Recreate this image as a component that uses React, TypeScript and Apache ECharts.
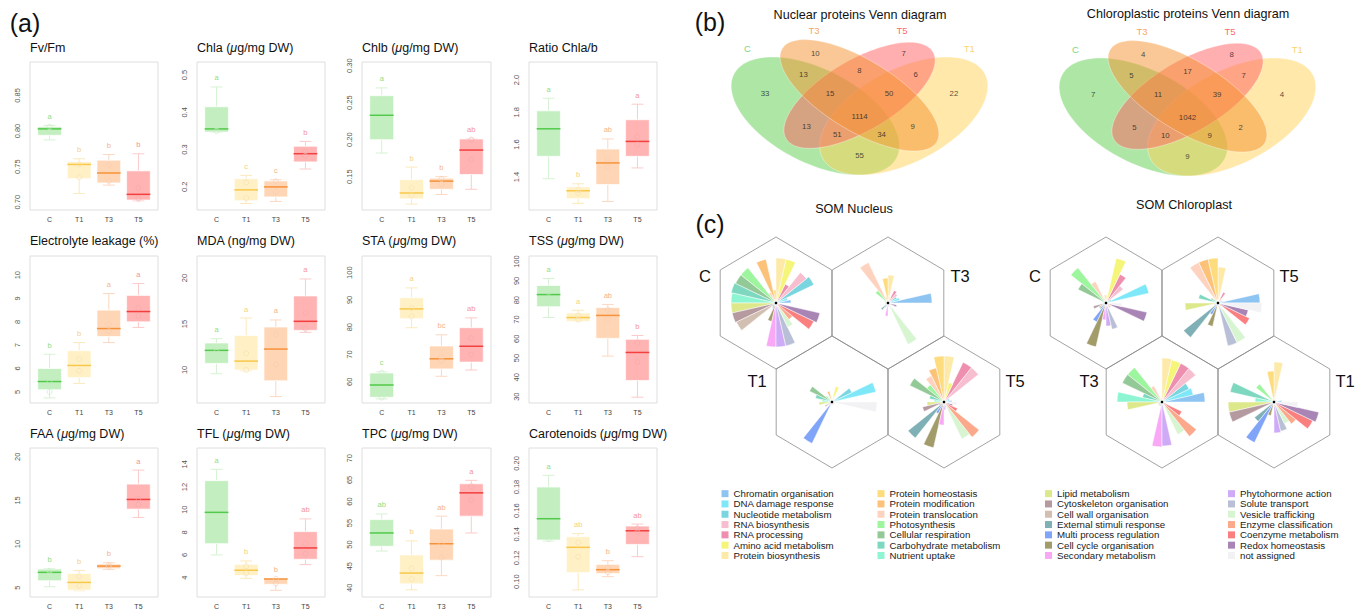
import React, { useEffect, useRef } from 'react';
import * as echarts from 'echarts';

const FONT = '"Liberation Sans", Arial, Helvetica, sans-serif';
const GROUPS = ['C', 'T1', 'T3', 'T5'];

// ---------------- (a) box plots: [min, Q1, median, Q3, max] per group ----------------
const fvfmBox = [[0.7875, 0.794, 0.803, 0.806, 0.808], [0.712, 0.733, 0.753, 0.757, 0.761], [0.724, 0.727, 0.741, 0.759, 0.767], [0.702, 0.703, 0.711, 0.744, 0.768]];
const fvfmLetters = ['a', 'b', 'b', 'b'];
const fvfmPoints = [[0.806, 0.799], [0.753, 0.735], [0.752, 0.730], [0.720, 0.705]];
const fvfmTicks = [0.70, 0.75, 0.80, 0.85];

const chlaBox = [[0.347, 0.347, 0.3555, 0.415, 0.468], [0.1555, 0.163, 0.192, 0.222, 0.231], [0.161, 0.173, 0.200, 0.216, 0.219], [0.248, 0.267, 0.289, 0.309, 0.322]];
const chlaLetters = ['a', 'c', 'c', 'b'];
const chlaPoints = [[0.362, 0.350], [0.212, 0.170], [0.215, 0.187], [0.295, 0.283]];
const chlaTicks = [0.2, 0.3, 0.4, 0.5];

const chlbBox = [[0.182, 0.200, 0.233, 0.2595, 0.270], [0.113, 0.120, 0.128, 0.146, 0.163], [0.126, 0.133, 0.144, 0.148, 0.150], [0.133, 0.153, 0.186, 0.201, 0.201]];
const chlbLetters = ['a', 'b', 'b', 'ab'];
const chlbPoints = [[0.250, 0.218], [0.135, 0.125], [0.147, 0.140], [0.200, 0.173]];
const chlbTicks = [0.15, 0.20, 0.25, 0.30];

const ratioBox = [[1.389, 1.528, 1.698, 1.809, 1.887], [1.237, 1.266, 1.315, 1.339, 1.358], [1.249, 1.354, 1.487, 1.573, 1.635], [1.456, 1.528, 1.620, 1.754, 1.850]];
const ratioLetters = ['a', 'b', 'ab', 'a'];
const ratioPoints = [[1.73, 1.66], [1.32, 1.30], [1.51, 1.46], [1.65, 1.60]];
const ratioTicks = [1.4, 1.6, 1.8, 2.0];

const elBox = [[4.74, 5.09, 5.44, 6.0, 6.61], [5.36, 5.61, 6.13, 6.76, 7.11], [7.11, 7.37, 7.71, 8.5, 9.21], [7.76, 8.0, 8.44, 9.13, 9.64]];
const elLetters = ['b', 'b', 'a', 'a'];
const elPoints = [[5.4, 5.0], [6.4, 5.9], [7.6, 7.9], [8.6, 8.25]];
const elTicks = [5, 6, 7, 8, 9, 10];

const mdaBox = [[9.58, 10.71, 12.13, 12.93, 13.4], [9.9, 9.98, 10.96, 13.76, 15.65], [7.1, 8.82, 12.27, 14.67, 15.44], [14.09, 14.31, 15.29, 18.05, 19.9]];
const mdaLetters = ['a', 'a', 'a', 'a'];
const mdaPoints = [[12.5, 12.0], [11.8, 10.0], [13.9, 10.6], [16.2, 14.5]];
const mdaTicks = [10, 15, 20];

const staBox = [[53.7, 54.3, 58.8, 63.2, 63.6], [79.8, 83.1, 86.7, 90.8, 94.4], [62.0, 64.7, 68.4, 73.1, 77.2], [64.3, 67.2, 73.0, 79.8, 83.4]];
const staLetters = ['c', 'a', 'bc', 'ab'];
const staPoints = [[63.3, 54.2], [87, 84], [69, 67.7], [76, 70]];
const staTicks = [60, 70, 80, 90, 100];

const tssBox = [[71.0, 76.6, 82.9, 87.6, 91.2], [69.0, 69.0, 71.0, 73.4, 74.8], [51.0, 60.2, 72.1, 76.2, 77.8], [29.7, 38.4, 52.9, 59.7, 61.7]];
const tssLetters = ['a', 'a', 'ab', 'b'];
const tssPoints = [[84, 79], [72, 70], [75, 70], [58, 48]];
const tssTicks = [30, 40, 50, 60, 70, 80, 90, 100];

const faaBox = [[5.11, 5.8, 6.76, 7.14, 7.2], [4.66, 4.73, 5.61, 6.64, 6.98], [7.1, 7.18, 7.48, 7.71, 7.86], [13.05, 14.0, 15.11, 16.87, 18.47]];
const faaLetters = ['b', 'b', 'b', 'a'];
const faaPoints = [[6.9, 6.5], [6.3, 5.2], [7.6, 7.4], [15.2, 14.5]];
const faaTicks = [5, 10, 15, 20];

const tflBox = [[6.0, 7.0, 9.76, 12.56, 13.56], [3.94, 4.18, 4.65, 5.18, 5.47], [2.88, 3.41, 3.88, 3.91, 3.91], [5.15, 5.62, 6.62, 8.06, 9.18]];
const tflLetters = ['a', 'b', 'b', 'ab'];
const tflPoints = [[11.5, 8.0], [5.0, 4.4], [3.9, 3.5], [7.0, 6.1]];
const tflTicks = [4, 6, 8, 10, 12, 14];

const tpcBox = [[48.5, 49.6, 52.7, 55.8, 57.1], [39.5, 40.9, 43.4, 47.6, 50.85], [42.8, 46.4, 50.2, 53.6, 56.6], [52.7, 56.6, 62.0, 64.1, 64.9]];
const tpcLetters = ['ab', 'b', 'ab', 'a'];
const tpcPoints = [[54.5, 50.5], [44.5, 42], [50.2, 47], [63.5, 60.3]];
const tpcTicks = [40, 45, 50, 55, 60, 65, 70];

const carBox = [[0.1344, 0.1352, 0.1532, 0.180, 0.1899], [0.093, 0.1076, 0.129, 0.138, 0.1406], [0.1042, 0.1068, 0.1101, 0.1146, 0.1177], [0.1211, 0.1315, 0.143, 0.147, 0.1487]];
const carLetters = ['a', 'ab', 'b', 'ab'];
const carPoints = [[0.170, 0.136], [0.133, 0.121], [0.112, 0.108], [0.145, 0.142]];
const carTicks = [0.10, 0.12, 0.14, 0.16, 0.18, 0.20];

const PANELS = [
  { title: 'Fv/Fm', box: fvfmBox, letters: fvfmLetters, points: fvfmPoints, ticks: fvfmTicks, range: [0.689, 0.897], dec: 2 },
  { title: 'Chla ({i|μ}g/mg DW)', box: chlaBox, letters: chlaLetters, points: chlaPoints, ticks: chlaTicks, range: [0.138, 0.535], dec: 1 },
  { title: 'Chlb ({i|μ}g/mg DW)', box: chlbBox, letters: chlbLetters, points: chlbPoints, ticks: chlbTicks, range: [0.105, 0.305], dec: 2 },
  { title: 'Ratio Chla/b', box: ratioBox, letters: ratioLetters, points: ratioPoints, ticks: ratioTicks, range: [1.196, 2.111], dec: 1 },
  { title: 'Electrolyte leakage (%)', box: elBox, letters: elLetters, points: elPoints, ticks: elTicks, range: [4.52, 10.82], dec: 0 },
  { title: 'MDA (ng/mg DW)', box: mdaBox, letters: mdaLetters, points: mdaPoints, ticks: mdaTicks, range: [6.4, 22.4], dec: 0 },
  { title: 'STA ({i|μ}g/mg DW)', box: staBox, letters: staLetters, points: staPoints, ticks: staTicks, range: [52.2, 106.1], dec: 0 },
  { title: 'TSS ({i|μ}g/mg DW)', box: tssBox, letters: tssLetters, points: tssPoints, ticks: tssTicks, range: [26.7, 102.9], dec: 0 },
  { title: 'FAA ({i|μ}g/mg DW)', box: faaBox, letters: faaLetters, points: faaPoints, ticks: faaTicks, range: [3.94, 21.0], dec: 0 },
  { title: 'TFL ({i|μ}g/mg DW)', box: tflBox, letters: tflLetters, points: tflPoints, ticks: tflTicks, range: [2.29, 15.44], dec: 0 },
  { title: 'TPC ({i|μ}g/mg DW)', box: tpcBox, letters: tpcLetters, points: tpcPoints, ticks: tpcTicks, range: [37.85, 72.4], dec: 0 },
  { title: 'Carotenoids ({i|μ}g/mg DW)', box: carBox, letters: carLetters, points: carPoints, ticks: carTicks, range: [0.087, 0.213], dec: 2 },
];

const COLS_X = [[30, 158], [197, 325], [362, 491], [529, 657]];
const ROWS_Y = [[62, 210], [256, 403], [448, 597]];
const TITLE_Y = [48, 241, 434];

const GROUP_STYLE = [
  { fill: '#c3efc0', median: '#52c94a', whisker: '#d6f2d3', letter: '#8fdc86', point: '#c4eac0' },
  { fill: '#fff0c6', median: '#f7c84a', whisker: '#fbe9bb', letter: '#f6d27e', point: '#f6e0aa' },
  { fill: '#ffd6b5', median: '#f5923a', whisker: '#fbd8c2', letter: '#f6b487', point: '#f5cbb0' },
  { fill: '#ffb3b3', median: '#f23f3f', whisker: '#fccaca', letter: '#f49595', point: '#f3aaaa' },
];

// ---------------- (b) Venn diagrams ----------------
const VENN_SETS = ['C', 'T3', 'T5', 'T1'];
const VENN_SET_COLORS = ['#5ccc55', '#f58c38', '#ff4040', '#f8c84a'];
const VENN_SET_X = [0.12, 0.346, 0.644, 0.872];
const VENN_SET_Y = [0.794, 0.885, 0.885, 0.794];
const VENN_LABEL_X = [0.18, 0.35, 0.65, 0.82, 0.31, 0.50, 0.69, 0.40, 0.60, 0.50, 0.32, 0.425, 0.575, 0.68, 0.50];
const VENN_LABEL_Y = [0.58, 0.77, 0.77, 0.58, 0.67, 0.69, 0.67, 0.58, 0.58, 0.47, 0.42, 0.38, 0.38, 0.42, 0.28];
const nuclearCounts = [33, 10, 7, 22, 13, 8, 6, 15, 50, 1114, 13, 51, 34, 9, 55];
const chloroCounts = [7, 4, 8, 4, 5, 17, 7, 11, 39, 1042, 5, 10, 9, 2, 9];
// ellipses: cx, cy, a, b, rotation(deg), set index
const VENN_ELLIPSES = [
  [0.35, 0.47, 0.35, 0.20, 135, 0],
  [0.65, 0.47, 0.35, 0.20, 45, 3],
  [0.50, 0.57, 0.33, 0.15, 45, 2],
  [0.50, 0.57, 0.35, 0.15, 135, 1],
];
const VENN_FILLS = ['rgba(91,205,75,0.5)', 'rgba(245,145,45,0.5)', 'rgba(255,95,95,0.5)', 'rgba(255,209,85,0.5)'];

// ---------------- (c) SOM codes (segment lengths) ----------------
const CATS = ['Chromatin organisation', 'DNA damage response', 'Nucleotide metabolism', 'RNA biosynthesis', 'RNA processing', 'Amino acid metabolism', 'Protein biosynthesis',
  'Protein homeostasis', 'Protein modification', 'Protein translocation', 'Photosynthesis', 'Cellular respiration', 'Carbohydrate metabolism', 'Nutrient uptake',
  'Lipid metabolism', 'Cytoskeleton organisation', 'Cell wall organisation', 'External stimuli response', 'Multi process regulation', 'Cell cycle organisation', 'Secondary metabolism',
  'Phytohormone action', 'Solute transport', 'Vesicle trafficking', 'Enzyme classification', 'Coenzyme metabolism', 'Redox homeostasis', 'not assigned'];
const CAT_COLORS = ['#8ec4f2', '#7ee8f8', '#79d6e0', '#f7bed0', '#ee8fb0', '#f5f57a', '#fde9a8',
  '#fddc7e', '#fcc27a', '#fdd3bf', '#9df59d', '#93c996', '#7ed8c0', '#8ef5d2',
  '#dde88a', '#b59a9f', '#d2bfb2', '#7fb0b5', '#80a4f8', '#a29b6a', '#f9a8f5',
  '#cfaaf7', '#b9bfd6', '#d8f5d2', '#fba98a', '#fb7f7f', '#a985b5', '#f2f2f5'];

const somNucC = [15, 12, 42, 39, 21, 45, 45, 13, 45, 12, 45, 45, 46, 45, 45, 45, 44, 5, 6, 19, 44, 44, 44, 27, 21, 42, 45, 4];
const somNucT3 = [44, 12, 10, 12, 14, 6, 28, 25, 6, 45, 16, 4, 3, 3, 3, 3, 3, 9, 5, 3, 13, 4, 3, 46, 3, 3, 9, 3];
const somNucT1 = [4, 45, 22, 3, 3, 16, 3, 3, 11, 3, 8, 25, 17, 10, 13, 4, 8, 3, 46, 3, 3, 3, 3, 3, 3, 3, 3, 45];
const somNucT5 = [8, 6, 6, 44, 44, 20, 46, 46, 35, 29, 22, 38, 15, 10, 17, 22, 6, 46, 13, 47, 23, 8, 6, 41, 45, 15, 9, 13];
const somChlC = [3, 44, 6, 22, 32, 46, 8, 8, 5, 24, 45, 31, 4, 3, 3, 13, 8, 8, 21, 45, 17, 23, 27, 3, 6, 3, 42, 16];
const somChlT5 = [42, 5, 4, 4, 12, 4, 36, 45, 45, 45, 5, 8, 20, 4, 33, 4, 4, 44, 13, 24, 4, 4, 44, 44, 4, 35, 31, 44];
const somChlT3 = [43, 32, 30, 43, 43, 43, 44, 4, 4, 18, 44, 44, 20, 45, 35, 4, 4, 4, 4, 4, 45, 44, 4, 36, 44, 22, 4, 4];
const somChlT1 = [8, 3, 3, 3, 3, 3, 40, 31, 3, 3, 23, 3, 45, 19, 46, 46, 3, 25, 45, 14, 3, 31, 30, 24, 28, 43, 46, 24];

const SOM_NODES = [
  { vals: somNucC, center: [776, 303], label: 'C', lx: 705, ly: 276 },
  { vals: somNucT3, center: [888, 303], label: 'T3', lx: 960, ly: 276 },
  { vals: somNucT1, center: [832, 402], label: 'T1', lx: 757, ly: 381 },
  { vals: somNucT5, center: [944, 402], label: 'T5', lx: 1015, ly: 381 },
  { vals: somChlC, center: [1106, 303], label: 'C', lx: 1035, ly: 276 },
  { vals: somChlT5, center: [1218, 303], label: 'T5', lx: 1289, ly: 276 },
  { vals: somChlT3, center: [1162, 402], label: 'T3', lx: 1089, ly: 381 },
  { vals: somChlT1, center: [1274, 402], label: 'T1', lx: 1345, ly: 381 },
];

function txt(text: string, x: number, y: number, size: number, extra: any = {}) {
  return {
    type: 'text', x, y, z: 50,
    style: {
      text, fontSize: size, fontFamily: FONT, fill: extra.fill || '#111',
      align: extra.align || 'left', textAlign: extra.align || 'left',
      verticalAlign: 'middle', textVerticalAlign: 'middle',
      rich: { i: { fontStyle: 'italic', fontSize: size, fontFamily: FONT, fill: extra.fill || '#111' } },
    },
  };
}

function buildOption() {
  const grid: any[] = [];
  const xAxis: any[] = [];
  const yAxis: any[] = [];
  const series: any[] = [];
  const graphic: any[] = [];

  PANELS.forEach((p, i) => {
    const col = COLS_X[i % 4];
    const row = ROWS_Y[Math.floor(i / 4)];
    grid.push({ left: col[0], top: row[0], width: col[1] - col[0], height: row[1] - row[0], show: true, borderColor: '#dedede', borderWidth: 1, backgroundColor: 'transparent' });
    xAxis.push({
      gridIndex: i, type: 'value', min: 0.34, max: 4.66,
      axisLine: { show: false }, axisTick: { show: false }, splitLine: { show: false },
      axisLabel: { customValues: [1, 2, 3, 4], formatter: (v: number) => GROUPS[Math.round(v) - 1], fontSize: 7, color: '#444', fontFamily: FONT, margin: 6 },
    });
    yAxis.push({
      gridIndex: i, type: 'value', min: p.range[0], max: p.range[1],
      axisLine: { show: false }, axisTick: { show: false }, splitLine: { show: false },
      axisLabel: { customValues: p.ticks, formatter: (v: number) => v.toFixed(p.dec), rotate: 90, fontSize: 7.5, color: '#555', fontFamily: FONT, margin: 9 },
    });
    series.push({
      type: 'custom', xAxisIndex: i, yAxisIndex: i, clip: false, silent: true,
      encode: { x: 0, y: [1, 2, 3, 4, 5] },
      data: p.box.map((b, g) => [g + 1, ...b]),
      renderItem: (params: any, api: any) => {
        const g = params.dataIndex;
        const x = api.value(0);
        const pt = [1, 2, 3, 4, 5].map((d) => api.coord([x, api.value(d)]));
        const cx = pt[0][0];
        const w = api.size([0.8, 0])[0];
        const s = GROUP_STYLE[g];
        return {
          type: 'group', children: [
            { type: 'line', shape: { x1: cx, y1: pt[0][1], x2: cx, y2: pt[1][1] }, style: { stroke: s.whisker, lineWidth: 1 } },
            { type: 'line', shape: { x1: cx, y1: pt[3][1], x2: cx, y2: pt[4][1] }, style: { stroke: s.whisker, lineWidth: 1 } },
            { type: 'line', shape: { x1: cx - w / 4, y1: pt[0][1], x2: cx + w / 4, y2: pt[0][1] }, style: { stroke: s.whisker, lineWidth: 1 } },
            { type: 'line', shape: { x1: cx - w / 4, y1: pt[4][1], x2: cx + w / 4, y2: pt[4][1] }, style: { stroke: s.whisker, lineWidth: 1 } },
            { type: 'rect', shape: { x: cx - w / 2, y: pt[3][1], width: w, height: pt[1][1] - pt[3][1] }, style: { fill: s.fill, stroke: 'rgba(255,255,255,0.7)', lineWidth: 1 } },
            { type: 'line', shape: { x1: cx - w / 2, y1: pt[2][1], x2: cx + w / 2, y2: pt[2][1] }, style: { stroke: s.median, lineWidth: 1.5 } },
            {
              type: 'text', x: cx, y: pt[4][1] - 9,
              style: { text: p.letters[g], fill: s.letter, fontSize: 7.5, fontFamily: FONT, align: 'center', textAlign: 'center', verticalAlign: 'middle', textVerticalAlign: 'middle' },
            },
          ],
        };
      },
    });
    const pts: any[] = [];
    p.points.forEach((arr, g) => arr.forEach((v) => pts.push({ value: [g + 1, v], itemStyle: { color: 'rgba(0,0,0,0)', borderColor: GROUP_STYLE[g].point, borderWidth: 0.8 } })));
    series.push({ type: 'scatter', xAxisIndex: i, yAxisIndex: i, symbol: 'circle', symbolSize: 5, data: pts, silent: true, clip: false, z: 3 });
    graphic.push(txt(p.title, col[0], TITLE_Y[Math.floor(i / 4)], 12.5));
  });

  // Venn grids
  const vennDefs = [
    { left: 712, top: 6.3, counts: nuclearCounts, title: 'Nuclear proteins Venn diagram', tx: 860, ty: 15 },
    { left: 1040, top: 7.3, counts: chloroCounts, title: 'Chloroplastic proteins Venn diagram', tx: 1188, ty: 14 },
  ];
  vennDefs.forEach((v) => {
    const gi = grid.length;
    grid.push({ left: v.left, top: v.top, width: 295, height: 207, show: false });
    xAxis.push({ gridIndex: gi, type: 'value', min: 0, max: 1, show: false });
    yAxis.push({ gridIndex: gi, type: 'value', min: 0, max: 1, show: false });
    series.push({
      type: 'custom', xAxisIndex: gi, yAxisIndex: gi, silent: true, clip: false,
      encode: { x: 0, y: 1 },
      data: VENN_ELLIPSES,
      renderItem: (params: any, api: any) => {
        const cx = api.value(0), cy = api.value(1), a = api.value(2), b = api.value(3);
        const r = (api.value(4) * Math.PI) / 180;
        const pts: number[][] = [];
        for (let k = 0; k < 120; k++) {
          const t = (k / 120) * Math.PI * 2;
          const ex = cx + a * Math.cos(t) * Math.cos(r) - b * Math.sin(t) * Math.sin(r);
          const ey = cy + a * Math.cos(t) * Math.sin(r) + b * Math.sin(t) * Math.cos(r);
          pts.push(api.coord([ex, ey]));
        }
        return { type: 'polygon', shape: { points: pts }, style: { fill: VENN_FILLS[api.value(5)], stroke: 'rgba(255,255,255,0.6)', lineWidth: 0.6 } };
      },
    });
    series.push({
      type: 'scatter', xAxisIndex: gi, yAxisIndex: gi, silent: true, symbolSize: 1, z: 5,
      itemStyle: { color: 'transparent' },
      data: v.counts.map((c, k) => [VENN_LABEL_X[k], VENN_LABEL_Y[k], c]),
      label: { show: true, position: 'inside', formatter: (q: any) => String(q.value[2]), fontSize: 7.8, color: '#222', fontFamily: FONT },
    });
    series.push({
      type: 'scatter', xAxisIndex: gi, yAxisIndex: gi, silent: true, symbolSize: 1, z: 5,
      itemStyle: { color: 'transparent' },
      data: VENN_SETS.map((s, k) => ({ value: [VENN_SET_X[k], VENN_SET_Y[k]], name: s, label: { color: VENN_SET_COLORS[k] } })),
      label: { show: true, position: 'inside', formatter: '{b}', fontSize: 9.5, fontFamily: FONT },
    });
    graphic.push(txt(v.title, v.tx, v.ty, 12.6, { align: 'center' }));
  });

  // SOM polar roses
  const polar: any[] = [];
  const angleAxis: any[] = [];
  const radiusAxis: any[] = [];
  SOM_NODES.forEach((n, k) => {
    polar.push({ center: n.center, radius: 50 });
    angleAxis.push({ polarIndex: k, type: 'category', data: CATS, startAngle: 0, clockwise: false, show: false, boundaryGap: true });
    radiusAxis.push({ polarIndex: k, type: 'value', min: 0, max: 50, show: false });
    series.push({
      type: 'bar', coordinateSystem: 'polar', polarIndex: k, silent: true, barCategoryGap: '0%', z: 4,
      itemStyle: { borderColor: '#ffffff', borderWidth: 0.5 },
      data: n.vals.map((v, i) => ({ value: v, itemStyle: { color: CAT_COLORS[i] } })),
    });
    const [cx, cy] = n.center;
    const hw = 55.8, hr = 66;
    graphic.push({
      type: 'polygon', z: 1,
      shape: { points: [[cx, cy - hr], [cx + hw, cy - hr / 2], [cx + hw, cy + hr / 2], [cx, cy + hr], [cx - hw, cy + hr / 2], [cx - hw, cy - hr / 2]] },
      style: { fill: 'none', stroke: '#8a8a8a', lineWidth: 0.8 },
    });
    graphic.push({ type: 'circle', z: 100, shape: { cx, cy, r: 1.3 }, style: { fill: '#000' } });
    graphic.push(txt(n.label, n.lx, n.ly, 16.5, { align: 'center' }));
  });
  graphic.push(txt('SOM Nucleus', 854, 209, 12.6, { align: 'center' }));
  graphic.push(txt('SOM Chloroplast', 1184, 205, 12.6, { align: 'center' }));

  // panel letters
  graphic.push(txt('(a)', 25, 23, 25, { align: 'center' }));
  graphic.push(txt('(b)', 710, 22, 25, { align: 'center' }));
  graphic.push(txt('(c)', 710, 224, 25, { align: 'center' }));

  // legend provider
  series.push({
    type: 'pie', name: 'categories', center: [-300, -300], radius: [0, 2], silent: true,
    label: { show: false }, labelLine: { show: false },
    data: CATS.map((c, i) => ({ name: c, value: 1, itemStyle: { color: CAT_COLORS[i] } })),
  });
  const legendCols = [[721.5, 0], [877.5, 7], [1045, 14], [1228, 21]];
  const legend = legendCols.map(([left, start]) => ({
    orient: 'vertical', left, top: 488.5, padding: 0, itemWidth: 7, itemHeight: 7, itemGap: 0, icon: 'rect', selectedMode: false,
    data: CATS.slice(start, start + 7),
    textStyle: { fontSize: 9.7, fontFamily: FONT, color: '#222', lineHeight: 10.3 },
  }));

  return {
    animation: false,
    backgroundColor: '#ffffff',
    textStyle: { fontFamily: FONT },
    grid, xAxis, yAxis, polar, angleAxis, radiusAxis, legend, series, graphic,
  };
}

export default function App() {
  const ref = useRef<HTMLDivElement>(null);
  useEffect(() => {
    const chart = echarts.init(ref.current as HTMLDivElement, null, { renderer: 'svg' });
    chart.setOption(buildOption() as any);
    return () => chart.dispose();
  }, []);
  return <div ref={ref} style={{ position: 'absolute', left: 0, top: 0, width: 1369, height: 612, background: '#fff' }} />;
}
